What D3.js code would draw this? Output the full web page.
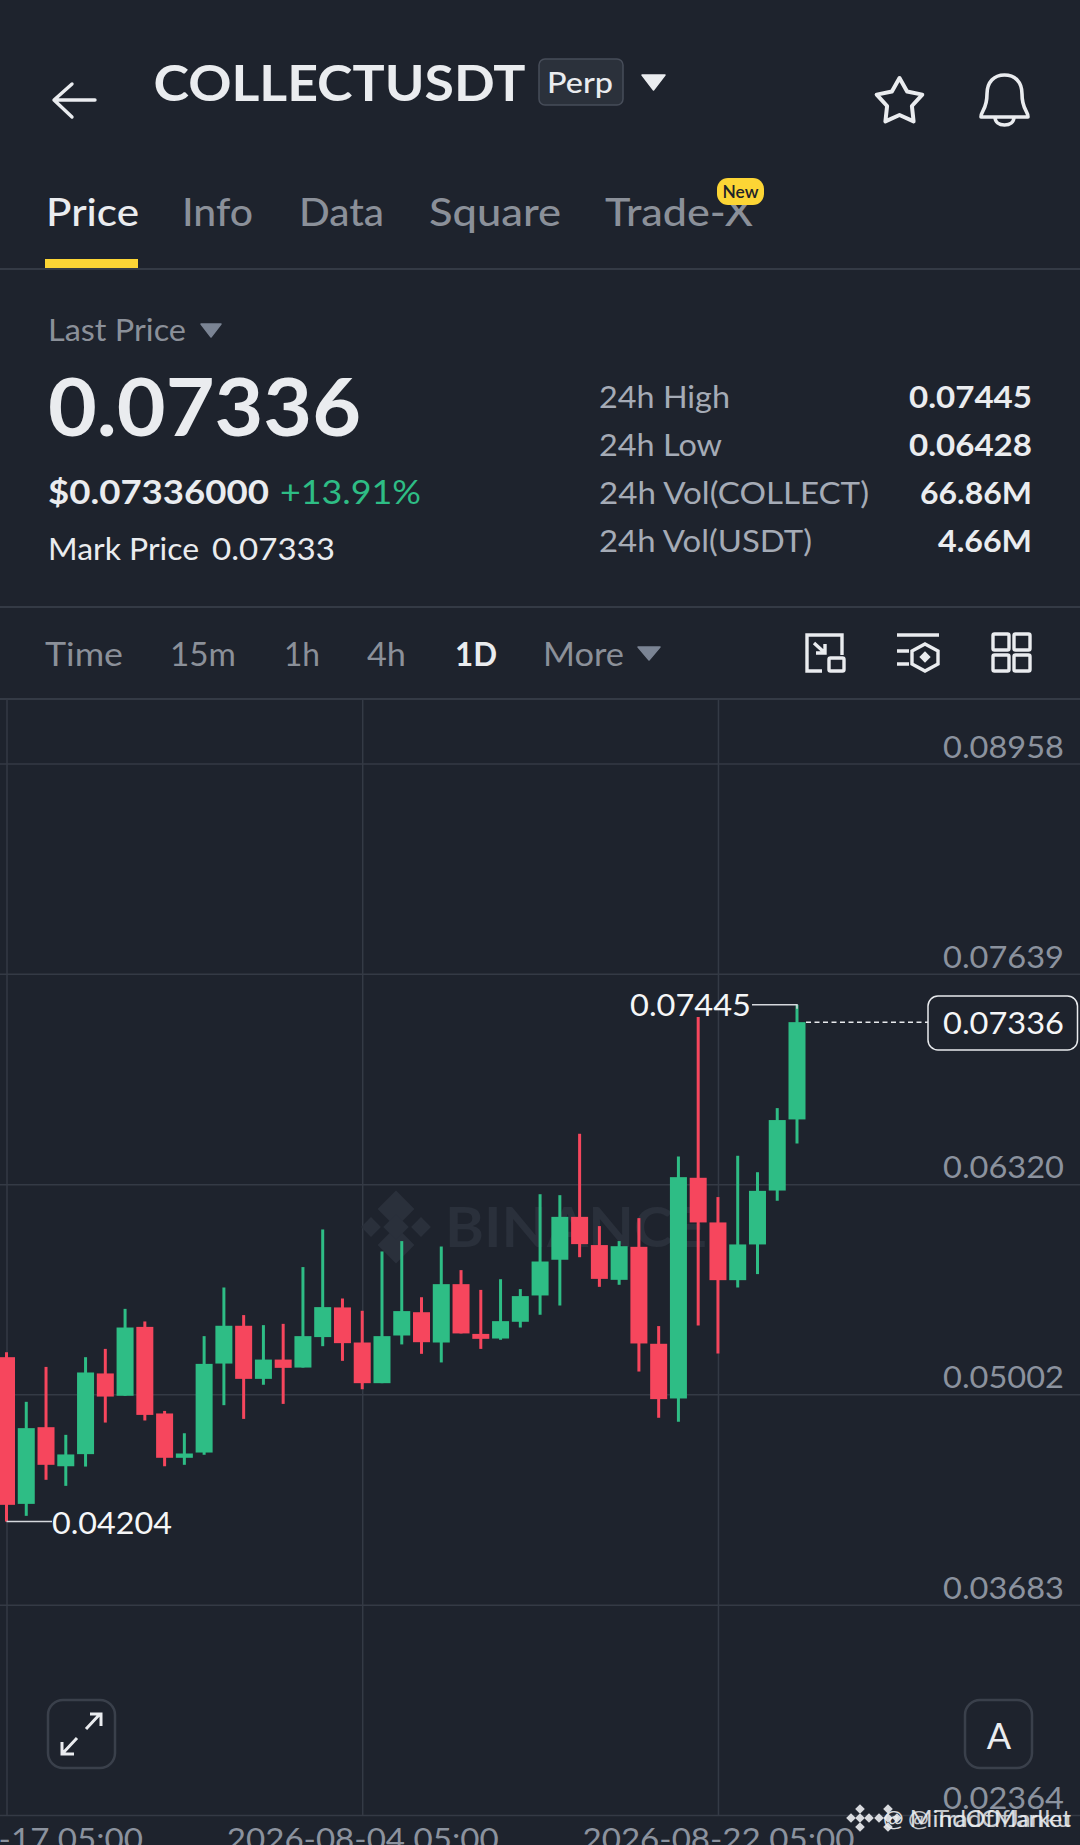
<!DOCTYPE html>
<html><head><meta charset="utf-8">
<script src="https://cdn.jsdelivr.net/npm/d3@7"></script>
<style>html,body{margin:0;padding:0;background:#1e232d;overflow:hidden}svg{display:block}text{font-family:Lato,"Noto Sans",sans-serif}</style>
</head><body><svg id="c" width="1080" height="1845"></svg>
<script>
const startDate = "2026-07-17T05:00:00Z";
const dayCount = 41;
const dateTicks = ["2026-07-17T05:00:00Z","2026-08-04T05:00:00Z","2026-08-22T05:00:00Z"];
const priceTicks = [0.08958,0.07639,0.06320,0.05002,0.03683,0.02364];
const priceLabels = ["0.08958","0.07639","0.06320","0.05002","0.03683","0.02364"];
const opens = [.05235,.04315,.04796,.04551,.04627,.05133,.04993,.05425,.04882,.04604,.04637,.05195,.05432,.05099,.05220,.05170,.05361,.05547,.05327,.05072,.05371,.05517,.05327,.05693,.05381,.05352,.05457,.05622,.05846,.06115,.05938,.05720,.05927,.05319,.04976,.06360,.06080,.05718,.05942,.06280,.06726];
const highs = [.05266,.04955,.05174,.04748,.05235,.05287,.05538,.05459,.04898,.04758,.05367,.05672,.05499,.05436,.05444,.05800,.06036,.05603,.05526,.05898,.05963,.05611,.05929,.05781,.05657,.05724,.05662,.06257,.06251,.06636,.06057,.05963,.06107,.05430,.06494,.07368,.06239,.06498,.06395,.06797,.07445];
const lows = [.04204,.04240,.04466,.04428,.04549,.04825,.04993,.04838,.04551,.04560,.04623,.04934,.04848,.05062,.04942,.05170,.05304,.05212,.05034,.05072,.05315,.05256,.05202,.05384,.05287,.05344,.05421,.05501,.05559,.05862,.05676,.05689,.05145,.04855,.04830,.05434,.05258,.05672,.05756,.06216,.06575];
const closes = [.04309,.04790,.04560,.04625,.05139,.04988,.05421,.04873,.04604,.04631,.05193,.05432,.05099,.05220,.05168,.05367,.05549,.05323,.05072,.05367,.05524,.05329,.05693,.05384,.05350,.05461,.05618,.05835,.06115,.05944,.05726,.05931,.05321,.04972,.06364,.06080,.05718,.05942,.06278,.06722,.07336];
const lastPrice = 0.07336, maxMark = 0.07445, minMark = 0.04204;

const BG="#1e232d", LINE="#343a45", GREEN="#2ebd85", RED="#f6465d", GREY="#8b9099", LIGHT="#eaecef", AXT="#8b929e";
const svg=d3.select("#c");
svg.append("rect").attr("width",1080).attr("height",1845).attr("fill",BG);
function T(g,x,y,s,size,weight,fill,anchor,w){const e=g.append("text").attr("x",x).attr("y",y).text(s).attr("font-size",size).attr("font-weight",weight).attr("fill",fill).attr("text-anchor",anchor||"start");if(w)e.attr("textLength",w).attr("lengthAdjust","spacingAndGlyphs");return e;}
const ui=svg.append("g");
function tri(x0,x1,y0,y1,f){ui.append("path").attr("d",`M${x0} ${y0}L${x1} ${y0}L${(x0+x1)/2} ${y1}Z`).attr("fill",f).attr("stroke",f).attr("stroke-width",1.5).attr("stroke-linejoin","round");}
function hr(y,c){ui.append("line").attr("x1",0).attr("x2",1080).attr("y1",y).attr("y2",y).attr("stroke",c||LINE).attr("stroke-width",2);}
// header
ui.append("path").attr("d","M95 100H55M72 84L54 100L72 117").attr("fill","none").attr("stroke",LIGHT).attr("stroke-width",3.4).attr("stroke-linecap","round").attr("stroke-linejoin","round");
T(ui,153.5,101,"COLLECTUSDT",50,700,LIGHT,"start",372);
ui.append("rect").attr("x",539).attr("y",59).attr("width",84).attr("height",46).attr("rx",6).attr("fill","#2b313b").attr("stroke","#474d59").attr("stroke-width",1.5);
T(ui,547,93,"Perp",29,500,LIGHT,"start",66);
tri(642,665,75,90,LIGHT);
ui.append("path").attr("d",d3.range(10).map(i=>{const r=i%2?13:24,a=-Math.PI/2+i*Math.PI/5;return (i?"L":"M")+(899.5+r*Math.cos(a)).toFixed(1)+" "+(102+r*Math.sin(a)).toFixed(1);}).join("")+"Z").attr("fill","none").attr("stroke",LIGHT).attr("stroke-width",4).attr("stroke-linejoin","round");
ui.append("path").attr("d","M981 117C981 110 987 110 987 94C987 82 994 75 1004.5 75C1015 75 1022 82 1022 94C1022 110 1028 110 1028 117ZM995 117C995 122 999 125 1004.5 125C1010 125 1014 122 1014 117").attr("fill","none").attr("stroke",LIGHT).attr("stroke-width",3.6).attr("stroke-linejoin","round");
// tabs
T(ui,46,226,"Price",39,500,LIGHT,"start",93);
[["Info",182,71],["Data",299,85],["Square",429,132],["Trade-X",605,148]].forEach(d=>T(ui,d[1],226,d[0],39,500,GREY,"start",d[2]));
ui.append("rect").attr("x",717).attr("y",178).attr("width",47).attr("height",27).attr("rx",11).attr("fill","#fcd535");
T(ui,740.5,197.5,"New",18,600,"#1e2329","middle",36);
ui.append("rect").attr("x",45).attr("y",259).attr("width",93).attr("height",9).attr("fill","#fcd535");
hr(269);
// price block
T(ui,48,341,"Last Price",30,400,GREY,"start",138);
tri(201,221,324,337,"#7b8494");
T(ui,48,436,"0.07336",80,700,LIGHT,"start",313);
T(ui,48,504,"$0.07336000",32,700,LIGHT,"start",221);
T(ui,280,504,"+13.91%",32,400,GREEN,"start",141);
T(ui,48,559.5,"Mark Price",30,400,LIGHT,"start",151);
T(ui,212,559.5,"0.07333",30,400,LIGHT,"start",123);
const statLabels=["24h High","24h Low","24h Vol(COLLECT)","24h Vol(USDT)"], statValues=["0.07445","0.06428","66.86M","4.66M"], statW=[131,123,270,213], statVW=[123,123,112,94], statY=[408,456,504,552];
statLabels.forEach((s,i)=>{T(ui,599,statY[i],s,30,400,"#a5abb6","start",statW[i]);T(ui,1032,statY[i],statValues[i],30,700,LIGHT,"end",statVW[i]);});
hr(607);
// interval row
[["Time",45,78],["15m",170,66],["1h",284,36],["4h",367,39],["More",543,81]].forEach(d=>T(ui,d[1],666,d[0],32,400,GREY,"start",d[2]));
T(ui,455,666,"1D",32,700,LIGHT,"start",42);
tri(638,660,647,660,"#7b8494");
const ic=ui.append("g").attr("fill","none").attr("stroke",LIGHT).attr("stroke-width",3.4);
ic.append("path").attr("d","M842 655V635H807V671H822M814 643L825 653M816 653H825V644");
ic.append("rect").attr("x",829).attr("y",658).attr("width",15).attr("height",13).attr("rx",1.5);
ic.append("path").attr("d","M897 635H939M897 651H909M897 664H909");
ic.append("path").attr("d","M925 644L938 651V664L925 671L912 664V651Z");
ui.append("rect").attr("x",921).attr("y",653).attr("width",8).attr("height",8).attr("fill",LIGHT).attr("transform","rotate(45 925 657)");
[[993,634],[1014,634],[993,655],[1014,655]].forEach(p=>ic.append("rect").attr("x",p[0]).attr("y",p[1]).attr("width",16).attr("height",16).attr("rx",1.5));
hr(699);

// chart
const dates=d3.range(dayCount).map(i=>d3.utcDay.offset(new Date(startDate),i));
const x=d3.scaleUtc().domain([dates[0],dates[dayCount-1]]).range([6.5,797]);
const y=d3.scaleLinear().domain([priceTicks[5],priceTicks[0]]).range([1815,763.5]);
const chartTop=699, chartBottom=1815;
// vertical grid & date labels
const xAxis=d3.axisBottom(x).tickValues(dateTicks.map(d=>new Date(d))).tickSize(-(chartBottom-chartTop)).tickFormat(d3.utcFormat("%Y-%m-%d %H:%M"));
const gx=svg.append("g").attr("transform",`translate(0,${chartBottom})`).call(xAxis);
gx.select(".domain").remove();
gx.selectAll("line").attr("stroke",LINE).attr("stroke-width",1.5);
gx.selectAll("text").attr("y",null).attr("dy",null).attr("transform","translate(0,35)").attr("font-size",30).attr("fill",AXT).attr("font-family",'Lato').attr("textLength",272).attr("lengthAdjust","spacingAndGlyphs");
// horizontal grid & price labels
const yAxis=d3.axisRight(y).tickValues(priceTicks).tickSize(1080).tickFormat((d,i)=>priceLabels[i]);
const gy=svg.append("g").call(yAxis);
gy.select(".domain").remove();
gy.selectAll("line").attr("stroke",LINE).attr("stroke-width",1.5);
gy.selectAll("text").attr("x",1064).attr("dy",null).attr("y",-6.5).attr("text-anchor","end").attr("font-size",30).attr("fill",AXT).attr("font-family",'Lato').attr("textLength",121).attr("lengthAdjust","spacingAndGlyphs");
// Binance watermark
const wm=svg.append("g").attr("fill","#2a303b");
[[396,1209,13],[396,1245,13],[396,1227,9],[371,1227,7],[421,1227,7]].forEach(p=>wm.append("rect").attr("x",p[0]-p[2]).attr("y",p[1]-p[2]).attr("width",2*p[2]).attr("height",2*p[2]).attr("transform",`rotate(45 ${p[0]} ${p[1]})`));
T(wm,445,1247,"BINANCE",56,700,"#2a303b","start",262);
// candles
const W=17,WW=3;
const cg=svg.append("g");
const data=dates.map((d,i)=>({d,o:opens[i],h:highs[i],l:lows[i],c:closes[i]}));
const col=d=>d.c>=d.o?GREEN:RED;
cg.selectAll("line").data(data).join("line").attr("x1",d=>x(d.d)).attr("x2",d=>x(d.d)).attr("y1",d=>y(d.h)).attr("y2",d=>y(d.l)).attr("stroke",col).attr("stroke-width",WW);
cg.selectAll("rect").data(data).join("rect").attr("x",d=>x(d.d)-W/2).attr("width",W).attr("y",d=>y(Math.max(d.o,d.c))).attr("height",d=>Math.max(4,Math.abs(y(d.o)-y(d.c)))).attr("fill",col);
// markers
const lastX=x(dates[40]), minX=x(dates[0]);
const mk=svg.append("g");
mk.append("path").attr("d",`M752 ${y(maxMark)}H${lastX}V${y(maxMark)+4}`).attr("fill","none").attr("stroke","#d5d8dd").attr("stroke-width",1.5);
T(mk,751,y(maxMark)+11.5,"0.07445",30,400,"#f5f6f7","end",121);
mk.append("path").attr("d",`M${minX} ${y(minMark)}H52`).attr("fill","none").attr("stroke","#d5d8dd").attr("stroke-width",1.5);
T(mk,52,y(minMark)+12,"0.04204",30,400,"#f5f6f7","start",120);
mk.append("line").attr("x1",lastX+9).attr("x2",928).attr("y1",y(lastPrice)).attr("y2",y(lastPrice)).attr("stroke","#e8eaed").attr("stroke-width",1.5).attr("stroke-dasharray","5 3.5");
mk.append("rect").attr("x",928).attr("y",996).attr("width",149.5).attr("height",54).attr("rx",10).attr("fill",BG).attr("stroke","#e8eaed").attr("stroke-width",1.5);
T(mk,1064,1034,"0.07336",30,400,"#f5f6f7","end",121);
// buttons
const bt=svg.append("g");
[48,965].forEach(bx=>bt.append("rect").attr("x",bx).attr("y",1700).attr("width",67).attr("height",68).attr("rx",15).attr("fill",BG).attr("stroke","#3a404b").attr("stroke-width",2.5));
bt.append("path").attr("d","M86 1729L100 1714M90 1714H101V1726M77 1738L63 1753M62 1742V1754H74").attr("fill","none").attr("stroke",LIGHT).attr("stroke-width",3);
T(bt,999,1749,"A",36,400,LIGHT,"middle");
// attribution
function logo(g,cx,cy,s,f){[[0,-s],[0,s],[0,0],[-s,0],[s,0]].forEach(p=>g.append("rect").attr("x",cx+p[0]-s*.38).attr("y",cy+p[1]-s*.38).attr("width",s*.76).attr("height",s*.76).attr("fill",f).attr("transform",`rotate(45 ${cx+p[0]} ${cy+p[1]})`));}
const at=svg.append("g");
logo(at,860,1818,9,"#d8dade");logo(at,888,1818,9,"#d8dade");
T(at,1071,1827,"@ MindOfMarket",24,400,"#eceef1","end",188).attr("opacity",.9);
T(at,1071,1827,"@ TradOfJanku",24,400,"#eceef1","end",163).attr("opacity",.8);
</script></body></html>
